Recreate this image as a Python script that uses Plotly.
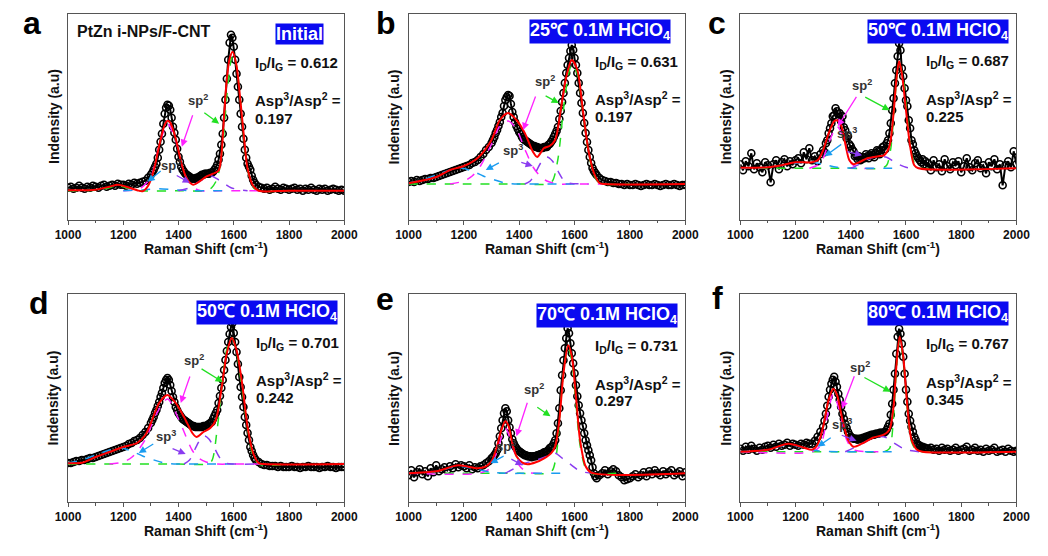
import plotly.graph_objects as go

# ---------------- data (intensity in arbitrary units, baseline = 0) ----------------
X_LOW = list(range(1000, 1300, 10))    # 30 points
X_MID = list(range(1300, 1680, 5))     # 76 points
X_HIGH = list(range(1680, 2001, 10))   # 33 points
RAMAN_SHIFT = X_LOW + X_MID + X_HIGH

PANEL_IDS = ["a", "b", "c", "d", "e", "f"]
CONDITIONS = ["Initial", "25℃ 0.1M HClO<sub>4</sub>", "50℃ 0.1M HClO<sub>4</sub>",
              "50℃ 0.1M HClO<sub>4</sub>", "70℃ 0.1M HClO<sub>4</sub>", "80℃ 0.1M HClO<sub>4</sub>"]
ID_IG = ["0.612", "0.631", "0.687", "0.701", "0.731", "0.767"]
ASP_RATIO = ["0.197", "0.197", "0.225", "0.242", "0.297", "0.345"]

a_obs = [3, 4, 2, 3, 5, 3, 2, 4, 3, 5, 4, 3, 5, 6, 4, 5, 6, 5, 7, 6, 6, 5, 7, 6, 8, 7, 8, 9, 10, 13,
         16, 18, 21, 24, 27, 33, 41, 49, 57, 67, 77, 83, 86, 85, 81, 73, 64, 58, 51, 42,
         34, 29, 24, 21, 19, 17, 16, 15, 14, 13, 12, 12, 12, 13, 13, 14, 15, 16, 16, 17,
         17, 17, 17, 18, 18, 19, 21, 23, 26, 31, 37, 46, 57, 73, 91, 112, 131, 148, 156, 153,
         144, 131, 117, 104, 91, 77, 64, 52, 41, 33, 27, 24, 21, 15, 11, 8,
         6, 4, 3, 2, 3, 1, 2, 4, 2, 1, 3, 2, 1, 2, 3, 1, 2, 0, 2, 1, 3, 1, 0, 2, 1, 2, 0, 1, 2, 1, 0, 1, 0]
b_obs = [2, 3, 2, 4, 3, 4, 5, 5, 6, 6, 7, 8, 9, 10, 11, 12, 13, 14, 15, 16, 17, 18, 19, 21, 22, 24, 27, 30, 34, 37,
         41, 44, 47, 51, 54, 58, 62, 67, 71, 78, 84, 87, 89, 88, 80, 72, 67, 62, 58, 55,
         52, 50, 47, 45, 44, 43, 42, 41, 40, 39, 38, 38, 37, 37, 36, 36, 36, 36, 37, 37,
         37, 39, 40, 42, 44, 47, 50, 53, 57, 65, 73, 82, 91, 101, 111, 119, 126, 133, 139, 134,
         126, 119, 111, 101, 91, 81, 71, 61, 51, 42, 34, 27, 21, 16, 13, 11,
         9, 6, 4, 3, 2, 2, 1, 1, 0, 0, -1, 0, -1, -1, 0, -1, -2, -1, 0, -1, -1, 0, -1, -2, -1, 0, -1, -1, 0, -1, -2, -1, -1]
c_obs = [4, -2, 7, 2, 15, -1, 5, 1, -4, 6, 3, -14, 4, 8, -1, 6, 9, 2, 7, 4, 8, 10, 5, 16, 9, 20, 8, 12, 7, 14,
         18, 16, 25, 28, 35, 40, 45, 52, 53, 60, 57, 54, 55, 47, 52, 41, 38, 30, 32, 24,
         22, 19, 17, 12, 13, 9, 12, 8, 9, 11, 10, 14, 12, 10, 13, 15, 13, 11, 15, 18,
         17, 14, 18, 21, 22, 19, 25, 28, 35, 45, 58, 70, 85, 98, 112, 125, 118, 100, 92, 80,
         68, 62, 48, 40, 28, 24, 18, 15, 12, 10, 8, 6, 9, 4, 7, 2,
         5, -2, 8, 1, 4, -3, 9, 2, -1, 6, 3, 7, -4, 2, 10, 1, -2, 5, 8, 0, 3, -5, 6, 2, 9, -1, 4, -17, 3, 7, 1, 17, 4]
d_obs = [1, 1, 2, 3, 3, 4, 4, 5, 6, 6, 7, 8, 9, 10, 11, 12, 13, 14, 15, 16, 17, 18, 20, 21, 23, 24, 26, 29, 32, 36,
         41, 44, 47, 51, 54, 58, 62, 67, 71, 76, 81, 84, 86, 84, 79, 73, 67, 62, 57, 54,
         51, 49, 47, 45, 44, 43, 42, 41, 40, 39, 38, 38, 37, 37, 37, 37, 37, 37, 38, 38,
         38, 39, 40, 41, 42, 45, 48, 51, 54, 61, 68, 76, 84, 94, 104, 113, 122, 130, 137, 141,
         131, 122, 112, 100, 87, 77, 67, 57, 47, 39, 31, 24, 17, 13, 9, 6,
         4, 2, 0, -1, -1, -2, -2, -2, -3, -2, -3, -3, -3, -2, -3, -3, -4, -3, -3, -2, -3, -3, -3, -4, -3, -3, -2, -3, -3, -4, -3, -3, -3]
e_obs = [-2, 3, -4, 1, 4, -1, 2, -3, 5, 1, 8, 2, 4, 6, 3, 7, 5, 9, 6, 8, 7, 5, 8, 4, 6, 5, 7, 8, 10, 12,
         15, 16, 18, 20, 23, 30, 37, 45, 53, 60, 65, 62, 53, 46, 40, 34, 30, 27, 25, 23,
         22, 21, 20, 19, 18, 18, 17, 17, 17, 16, 17, 17, 17, 18, 18, 19, 19, 20, 21, 21,
         22, 23, 25, 26, 27, 30, 33, 40, 50, 65, 83, 98, 113, 125, 135, 145, 140, 130, 120, 110,
         100, 88, 77, 68, 60, 53, 47, 40, 33, 28, 23, 18, 13, 6, 0, -3,
         -5, -2, 0, 3, -1, 2, 4, 2, -2, -4, -7, -6, -5, -3, -1, -4, -2, 1, -3, 2, -1, 3, 0, -2, 2, -1, 1, 3, -2, 0, 2, -3, 1]
f_obs = [3, 1, 5, 2, 6, 3, 1, 4, 2, 5, 6, 4, 7, 5, 8, 6, 7, 9, 6, 8, 7, 6, 8, 7, 9, 8, 8, 11, 15, 20,
         25, 31, 38, 46, 55, 62, 68, 72, 75, 70, 65, 58, 52, 45, 38, 33, 28, 24, 20, 17,
         15, 14, 13, 13, 13, 12, 13, 13, 13, 14, 14, 15, 15, 16, 16, 17, 17, 17, 18, 18,
         18, 19, 19, 19, 19, 20, 22, 25, 28, 37, 48, 62, 78, 98, 115, 123, 118, 108, 95, 78,
         62, 50, 38, 31, 25, 20, 15, 12, 8, 7, 6, 5, 5, 4, 4, 3,
         3, 4, 2, 3, 1, 4, 2, 3, 1, 2, 4, 1, 2, 3, 5, 1, 2, 4, 1, 2, 0, 3, 1, 2, 4, 0, 1, 2, 0, 3, 1, 0, 1]
OBSERVED = [a_obs, b_obs, c_obs, d_obs, e_obs, f_obs]

# cumulative fits (red)
a_fit_x = [1000, 1100, 1150, 1180, 1210, 1250, 1270, 1290, 1310, 1330, 1350, 1360, 1370, 1390, 1410, 1430, 1453, 1475, 1500, 1525, 1545, 1555, 1565, 1575, 1585, 1596, 1610, 1624, 1640, 1650, 1670, 1690, 1800, 2000]
a_fit_y = [0.5, 1, 4, 6, 4, 0.5, -0.5, 5, 20, 45, 66, 70, 68, 52, 28, 12, 6, 9, 14, 17, 20, 35, 75, 112, 132, 139, 125, 90, 45, 22, 5, 0, 0, 0]
b_fit_x = [1000, 1100, 1150, 1200, 1250, 1300, 1330, 1360, 1390, 1420, 1450, 1465, 1490, 1510, 1530, 1550, 1570, 1590, 1610, 1630, 1650, 1670, 1690, 1710, 2000]
b_fit_y = [0.7, 7, 14, 18, 26, 44, 64, 71, 64, 51, 32, 27, 36, 38, 44, 74, 107, 124, 114, 74, 34, 11, 1, 0, 0]
c_fit_x = [1000, 1100, 1150, 1200, 1260, 1280, 1300, 1320, 1340, 1350, 1365, 1380, 1395, 1410, 1430, 1460, 1500, 1520, 1540, 1555, 1565, 1575, 1585, 1600, 1615, 1630, 1645, 2000]
c_fit_y = [0.5, 1, 3, 6, 6, 8, 18, 35, 47, 48, 43, 25, 8, 4, 6, 10, 12, 13, 22, 55, 88, 107, 95, 58, 22, 3, 0, 0]
d_fit_x = [1000, 1050, 1100, 1150, 1200, 1250, 1280, 1300, 1330, 1360, 1390, 1420, 1450, 1465, 1490, 1515, 1535, 1555, 1575, 1593, 1610, 1630, 1650, 1670, 1690, 1710, 2000]
d_fit_y = [0.7, 1.3, 7, 12, 17, 21, 29, 41, 61, 69, 61, 47, 31, 27, 32, 36, 44, 74, 111, 126, 114, 81, 37, 11, 1, 0, 0]
e_fit_x = [1000, 1100, 1180, 1250, 1280, 1300, 1320, 1335, 1350, 1362, 1375, 1390, 1410, 1430, 1460, 1490, 1515, 1530, 1545, 1560, 1577, 1590, 1605, 1620, 1640, 1660, 2000]
e_fit_y = [0, 2, 8, 5, 7, 12, 27, 43, 52, 47, 30, 17, 11, 9, 11, 15, 20, 27, 53, 100, 128, 117, 77, 33, 7, 0.7, 0]
f_fit_x = [1000, 1100, 1175, 1230, 1260, 1280, 1300, 1320, 1337, 1350, 1370, 1390, 1410, 1440, 1480, 1520, 1540, 1555, 1565, 1577, 1590, 1605, 1620, 1640, 1660, 2000]
f_fit_y = [0, 2, 8, 4, 2, 7, 25, 52, 63, 57, 32, 12, 5, 8, 14, 17, 22, 45, 85, 115, 95, 45, 12, 2, 0, 0]
FITS = [(a_fit_x, a_fit_y), (b_fit_x, b_fit_y), (c_fit_x, c_fit_y),
        (d_fit_x, d_fit_y), (e_fit_x, e_fit_y), (f_fit_x, f_fit_y)]

# fitted components: G (green), D (magenta), ~1200 band (cyan), ~1500 band (purple)
a_g = ([1000, 1100, 1150, 1180, 1210, 1260, 1400, 1500, 1520, 1540, 1560, 1575, 1590, 1598, 1610, 1625, 1640, 1660, 1680, 1800],
       [0, 0.5, 3, 5, 3, 0, 0, 0, 3, 12, 45, 95, 130, 136, 125, 88, 42, 10, 1, 0])
a_d = ([1200, 1260, 1300, 1330, 1360, 1390, 1420, 1450, 1480, 1550, 1700], [0, 2, 14, 45, 67, 50, 18, 4, 0, 0, 0])
a_c = ([1200, 1280, 1330, 1380, 1450, 1560], [0, 1, 2, 1, 0, 0])
a_p = ([1400, 1440, 1480, 1515, 1550, 1590, 1650], [0, 3, 10, 15, 10, 3, 0])
b_g = ([1000, 1200, 1400, 1500, 1520, 1540, 1560, 1575, 1590, 1610, 1630, 1650, 1670, 1690, 1800],
       [0, 0, 0, 0, 3, 25, 75, 105, 120, 110, 72, 32, 9, 1, 0])
b_d = ([1150, 1200, 1230, 1260, 1300, 1330, 1360, 1390, 1420, 1450, 1475, 1500, 1540, 1600, 1700],
       [0, 3, 8, 18, 40, 58, 63, 55, 35, 17, 8, 3, 0, 0, 0])
b_c = ([1000, 1050, 1100, 1150, 1190, 1230, 1270, 1300, 1350, 1400, 1500, 1600], [1, 4, 9, 14, 16, 13, 8, 5, 1, 0, 0, 0])
b_p = ([1420, 1440, 1460, 1480, 1500, 1520, 1540, 1560, 1580, 1650], [0, 3, 12, 22, 27, 23, 13, 4, 1, 0])
c_g = ([1000, 1200, 1400, 1510, 1530, 1545, 1560, 1575, 1590, 1605, 1620, 1640, 1700], [0, 0, 0, 0, 3, 20, 70, 105, 90, 50, 15, 1, 0])
c_d = ([1250, 1290, 1320, 1350, 1375, 1395, 1420, 1500], [0, 5, 25, 42, 30, 8, 1, 0])
c_c = ([1000, 1100, 1200, 1260, 1300, 1350, 1450, 1550], [0, 1, 5, 6, 4, 1, 0, 0])
c_p = ([1400, 1430, 1460, 1500, 1530, 1560, 1600, 1650], [0, 4, 9, 12, 11, 6, 1, 0])
d_g = ([1000, 1200, 1400, 1500, 1520, 1540, 1560, 1575, 1593, 1610, 1630, 1650, 1670, 1690, 1800],
       [0, 0, 0, 0, 3, 35, 85, 115, 126, 112, 75, 35, 8, 0, 0])
d_d = ([1150, 1200, 1232, 1279, 1320, 1360, 1400, 1449, 1472, 1500, 1540, 1600, 1700], [0, 2, 7, 24, 50, 65, 45, 14, 6, 2, 0, 0, 0])
d_c = ([1000, 1050, 1100, 1150, 1190, 1230, 1270, 1300, 1350, 1400, 1500, 1600], [1, 4, 9, 14, 16, 13, 8, 5, 1, 0, 0, 0])
d_p = ([1420, 1440, 1460, 1480, 1495, 1510, 1530, 1550, 1570, 1600, 1680], [0, 4, 15, 25, 28, 25, 16, 6, 1, 0, 0])
e_g = ([1000, 1200, 1400, 1500, 1520, 1535, 1550, 1565, 1577, 1590, 1605, 1620, 1640, 1660, 1750],
       [0, 0, 0, 0, 3, 20, 70, 112, 125, 112, 70, 28, 5, 0, 0])
e_d = ([1000, 1250, 1290, 1320, 1350, 1375, 1400, 1430, 1500], [0, 0, 4, 22, 45, 28, 8, 1, 0])
e_c = ([1000, 1100, 1180, 1250, 1300, 1350, 1450, 1550], [0, 2, 7, 4, 1, 0, 0, 0])
e_p = ([1350, 1390, 1420, 1460, 1500, 1530, 1560, 1590, 1620, 1680], [0, 6, 10, 13, 17, 20, 14, 8, 2, 0])
f_g = ([1000, 1200, 1400, 1520, 1540, 1555, 1565, 1577, 1590, 1605, 1620, 1640, 1700], [0, 0, 0, 0, 3, 35, 80, 112, 92, 42, 10, 1, 0])
f_d = ([1000, 1260, 1290, 1315, 1337, 1360, 1385, 1410, 1500], [0, 0, 6, 35, 58, 40, 12, 2, 0])
f_c = ([1000, 1100, 1175, 1240, 1280, 1350, 1450, 1560], [0, 2, 7, 3, 1, 0, 0, 0])
f_p = ([1380, 1420, 1460, 1500, 1530, 1560, 1600, 1650], [0, 5, 11, 15, 14, 8, 2, 0])
COMPONENTS = [(a_g, a_d, a_c, a_p), (b_g, b_d, b_c, b_p), (c_g, c_d, c_c, c_p),
              (d_g, d_d, d_c, d_p), (e_g, e_d, e_c, e_p), (f_g, f_d, f_c, f_p)]

TICK_VALUES = [1000, 1200, 1400, 1600, 1800, 2000]

# ---------------- layout settings ----------------
W, H = 1048, 556
BOX = [(56.5, 340, 13.5, 219.5), (406, 690, 13.5, 219.5), (746.5, 1030, 13.5, 219.5),
       (56.5, 340, 294, 502), (406, 690, 294, 502), (746.5, 1030, 294, 502)]
YRANGE = [(-28.8, 177.2), (-35.5, 170.5), (-51.2, 154.8), (-38, 170), (-28.7, 179.3), (-50.3, 157.7)]
LETTER_POS = [(19, 23), (383, 23), (723, 23), (27, 303), (382, 299), (723, 298)]
LABEL_POS = [(1838, 157), (1692, 152), (1715, 137), (1721, 152), (1718, 158), (1716, 138)]
TEXT_X = [1671, 1666, 1665, 1672, 1666, 1667]
TEXT_Y = [(127, 91, 72), (121, 85, 67), (107, 70, 52), (121, 85, 67), (127, 90, 73), (107, 70, 52)]
SP2_POS = [(1471, 91), (1494, 103), (1441, 83), (1455, 104), (1452, 84), (1432, 85)]
SP3_POS = [(1371, 26), (1379, 34), (1388, 35), (1355, 28), (1354, 27), (1368, 28)]
# arrows: (tail_x, tail_y, head_x, head_y)
ARROW_M = [(1453, 77, 1412, 44), (1461, 89, 1414, 54), (1424, 73, 1353, 42), (1443, 89, 1408, 61), (1431, 72, 1390, 37), (1415, 77, 1368, 43)]
ARROW_G = [(1488, 79, 1547, 67), (1490, 89, 1543, 81), (1447, 72, 1541, 58), (1478, 96, 1560, 82), (1460, 67, 1513, 57), (1444, 75, 1544, 60)]
ARROW_C = [(1341, 21, 1288, 9), (1332, 22, 1279, 14), (1371, 25, 1306, 12), (1314, 21, 1256, 11), (1349, 18, 1296, 10), (1333, 15, 1280, 5)]
ARROW_P = [(1388, 16, 1441, 8), (1402, 22, 1449, 18), (1382, 17, 1441, 13), (1373, 16, 1426, 10), (1366, 15, 1413, 8), (1362, 17, 1421, 11)]

GREEN, MAGENTA, CYAN, PURPLE = "#22e022", "#ff22ff", "#1a9cf0", "#8a3cf0"
FONT = "Liberation Sans, Arial, sans-serif"
AXIS_COLOR = "#555555"

fig = go.Figure()
annotations = []
layout_axes = {}

for i, pid in enumerate(PANEL_IDS):
    n = "" if i == 0 else str(i + 1)
    xref, yref = "x" + n, "y" + n
    left, right, top, bottom = BOX[i]
    layout_axes["xaxis" + n] = dict(
        domain=[left / W, right / W], anchor=yref, range=[1000, 2000],
        tickmode="array", tickvals=TICK_VALUES, ticks="outside", ticklen=4, tickwidth=1,
        tickcolor=AXIS_COLOR, tickfont=dict(size=12, color="#111", family=FONT, weight="bold"),
        minor=dict(dtick=100, tick0=1000, ticks="outside", ticklen=2.5, tickcolor=AXIS_COLOR),
        showline=True, linecolor=AXIS_COLOR, linewidth=1, mirror=True,
        showgrid=False, zeroline=False)
    layout_axes["yaxis" + n] = dict(
        domain=[1 - bottom / H, 1 - top / H], anchor=xref, range=list(YRANGE[i]),
        showticklabels=False, ticks="", showline=True, linecolor=AXIS_COLOR, linewidth=1,
        mirror=True, showgrid=False, zeroline=False)

    # observed spectrum
    fig.add_trace(go.Scatter(
        x=RAMAN_SHIFT, y=OBSERVED[i], mode="lines+markers", xaxis=xref, yaxis=yref,
        line=dict(color="black", width=2),
        marker=dict(symbol="circle-open", size=7, color="black", line=dict(width=1.6)),
        showlegend=False, hoverinfo="skip"))
    # components
    for comp, col in zip(COMPONENTS[i], [GREEN, MAGENTA, CYAN, PURPLE]):
        fig.add_trace(go.Scatter(
            x=comp[0], y=comp[1], mode="lines", xaxis=xref, yaxis=yref,
            line=dict(color=col, width=1.5, dash="dash", shape="spline", smoothing=0.8),
            showlegend=False, hoverinfo="skip"))
    # cumulative fit
    fig.add_trace(go.Scatter(
        x=FITS[i][0], y=FITS[i][1], mode="lines", xaxis=xref, yaxis=yref,
        line=dict(color="#ff0000", width=2, shape="spline", smoothing=0.8),
        showlegend=False, hoverinfo="skip"))

    # axis titles
    annotations.append(dict(
        x=(left + right) / 2 / W, y=1 - (bottom + 28) / H, xref="paper", yref="paper",
        text="<b>Raman Shift (cm<sup>-1</sup>)</b>", showarrow=False,
        font=dict(size=14, family=FONT, color="#111"), xanchor="center", yanchor="middle"))
    annotations.append(dict(
        x=(left - 15) / W, y=1 - (top + bottom) / 2 / H, xref="paper", yref="paper",
        text="<b>Indensity (a.u)</b>", showarrow=False, textangle=-90,
        font=dict(size=14, family=FONT, color="#111"), xanchor="center", yanchor="middle"))
    # panel letter
    annotations.append(dict(
        x=LETTER_POS[i][0] / W, y=1 - LETTER_POS[i][1] / H, xref="paper", yref="paper",
        text="<b>" + pid + "</b>", showarrow=False,
        font=dict(size=32, family=FONT, color="black"), xanchor="center", yanchor="middle"))
    # condition label
    annotations.append(dict(
        x=LABEL_POS[i][0], y=LABEL_POS[i][1], xref=xref, yref=yref,
        text="<b>" + CONDITIONS[i] + "</b>", showarrow=False, bgcolor="#0a0af0",
        borderpad=0, font=dict(size=18, family=FONT, color="white"),
        xanchor="center", yanchor="middle"))
    # ratios
    ty = TEXT_Y[i]
    for txt, yy in [("<b>I<sub>D</sub>/I<sub>G</sub> = " + ID_IG[i] + "</b>", ty[0]),
                    ("<b>Asp<sup>3</sup>/Asp<sup>2</sup> =</b>", ty[1]),
                    ("<b>" + ASP_RATIO[i] + "</b>", ty[2])]:
        annotations.append(dict(
            x=TEXT_X[i], y=yy, xref=xref, yref=yref, text=txt, showarrow=False,
            font=dict(size=15, family=FONT, color="#111"), xanchor="left", yanchor="middle"))
    # sp labels
    annotations.append(dict(x=SP2_POS[i][0], y=SP2_POS[i][1], xref=xref, yref=yref,
                            text="<b>sp<sup>2</sup></b>", showarrow=False,
                            font=dict(size=13, family=FONT, color="#333")))
    annotations.append(dict(x=SP3_POS[i][0], y=SP3_POS[i][1], xref=xref, yref=yref,
                            text="<b>sp<sup>3</sup></b>", showarrow=False,
                            font=dict(size=13, family=FONT, color="#333")))
    # arrows
    for arr, col in [(ARROW_M[i], MAGENTA), (ARROW_G[i], GREEN), (ARROW_C[i], CYAN), (ARROW_P[i], PURPLE)]:
        annotations.append(dict(
            x=arr[2], y=arr[3], ax=arr[0], ay=arr[1], xref=xref, yref=yref,
            axref=xref, ayref=yref, text="", showarrow=True, arrowhead=2,
            arrowsize=1.1, arrowwidth=1.3, arrowcolor=col, standoff=0))

# sample name in panel a
annotations.append(dict(x=1024, y=159, xref="x", yref="y", text="<b>PtZn i-NPs/F-CNT</b>",
                        showarrow=False, font=dict(size=16, family=FONT, color="#111"),
                        xanchor="left", yanchor="middle"))

fig.update_layout(
    width=W, height=H, margin=dict(l=0, r=0, t=0, b=0),
    paper_bgcolor="white", plot_bgcolor="white",
    font=dict(family=FONT), annotations=annotations, showlegend=False,
    **layout_axes)

fig.write_html("out.html")
